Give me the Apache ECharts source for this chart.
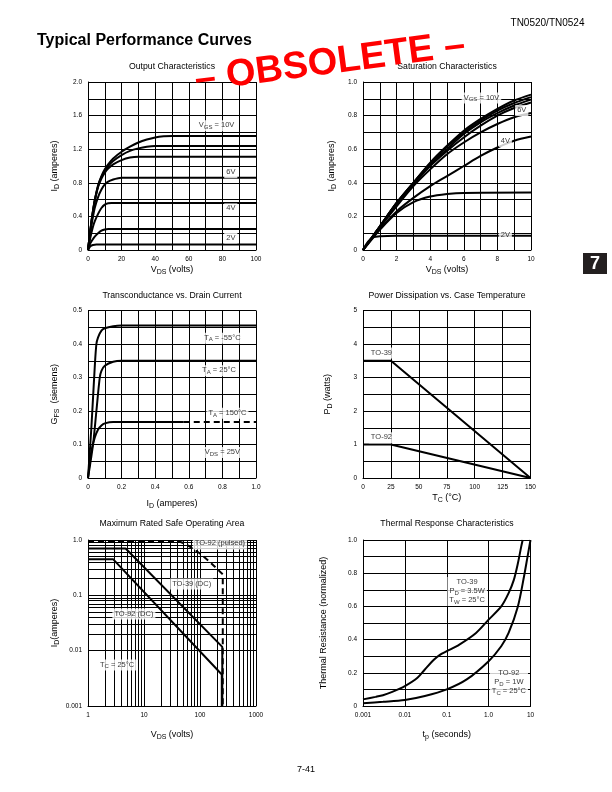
<!DOCTYPE html>
<html><head><meta charset="utf-8">
<script src="https://cdn.jsdelivr.net/npm/echarts@6/dist/echarts.min.js"></script>
<style>html,body{margin:0;padding:0;background:#fff}#c{width:612px;height:792px}</style>
</head><body><div id="c"></div><script>
// ================= DATA =================
// 1. Output Characteristics: [VDS (volts), ID (amperes)]
const outVgs10 = [[0,0],[1,0.17],[2,0.33],[3,0.47],[4,0.59],[6,0.77],[8,0.88],[10,0.96],[12,1.02],[15,1.09],[20,1.17],[25,1.23],[30,1.28],[35,1.315],[40,1.34],[45,1.353],[50,1.358],[100,1.358]];
const outVgs9  = [[0,0],[1,0.17],[2,0.33],[3,0.47],[4,0.59],[6,0.76],[8,0.87],[10,0.94],[12,1.0],[15,1.06],[20,1.13],[25,1.18],[30,1.21],[35,1.23],[40,1.238],[100,1.238]];
const outVgs8  = [[0,0],[1,0.17],[2,0.33],[3,0.46],[4,0.58],[6,0.75],[8,0.85],[10,0.92],[12,0.97],[15,1.02],[20,1.07],[25,1.1],[30,1.11],[100,1.11]];
const outVgs6  = [[0,0],[1,0.15],[2,0.29],[3,0.4],[4,0.5],[6,0.63],[8,0.72],[10,0.78],[12,0.815],[15,0.84],[18,0.855],[20,0.86],[100,0.86]];
const outVgs4  = [[0,0],[1,0.11],[2,0.2],[3,0.28],[4,0.34],[6,0.43],[8,0.5],[10,0.54],[12,0.556],[14,0.56],[100,0.56]];
const outVgs3  = [[0,0],[1,0.06],[2,0.1],[4,0.16],[6,0.2],[8,0.23],[10,0.245],[12,0.25],[100,0.25]];
const outVgs2  = [[0,0],[1,0.035],[2,0.052],[3,0.06],[5,0.065],[100,0.065]];

// 2. Saturation Characteristics: [VDS (volts), ID (amperes)]
const satVgs10 = [[0,0],[0.5,0.07],[1,0.14],[2,0.28],[3,0.4],[4,0.52],[5,0.62],[6,0.71],[7,0.78],[8,0.84],[9,0.89],[10,0.925]];
const satVgs9  = [[0,0],[0.5,0.07],[1,0.14],[2,0.28],[3,0.4],[4,0.515],[5,0.615],[6,0.7],[7,0.77],[8,0.83],[9,0.875],[10,0.91]];
const satVgs8  = [[0,0],[0.5,0.07],[1,0.14],[2,0.28],[3,0.4],[4,0.51],[5,0.6],[6,0.69],[7,0.76],[8,0.815],[9,0.86],[10,0.895]];
const satVgs6  = [[0,0],[0.5,0.07],[1,0.14],[2,0.275],[3,0.39],[4,0.5],[5,0.59],[6,0.67],[7,0.74],[8,0.8],[9,0.845],[10,0.878]];
const satVgs5  = [[0,0],[0.5,0.07],[1,0.135],[2,0.26],[3,0.38],[4,0.48],[5,0.57],[6,0.64],[7,0.7],[8,0.75],[9,0.79],[10,0.815]];
const satVgs4  = [[0,0],[0.5,0.065],[1,0.125],[2,0.23],[3,0.31],[4,0.38],[5,0.44],[6,0.5],[7,0.56],[8,0.61],[9,0.65],[10,0.675]];
const satVgs3  = [[0,0],[0.5,0.06],[1,0.12],[2,0.22],[3,0.285],[4,0.318],[5,0.333],[6,0.34],[10,0.342]];
const satVgs2  = [[0,0],[0.3,0.05],[0.6,0.075],[1,0.082],[2,0.085],[10,0.085]];

// 3. Transconductance vs Drain Current: [ID (amperes), GFS (siemens)]
const gfsM55   = [[0,0],[0.02,0.15],[0.04,0.33],[0.05,0.4],[0.06,0.42],[0.08,0.44],[0.1,0.447],[0.15,0.453],[0.2,0.455],[1.0,0.455]];
const gfs25    = [[0,0],[0.03,0.1],[0.05,0.2],[0.07,0.3],[0.08,0.32],[0.1,0.335],[0.15,0.347],[0.2,0.35],[1.0,0.35]];
const gfs150   = [[0,0],[0.02,0.08],[0.04,0.12],[0.06,0.145],[0.08,0.157],[0.1,0.163],[0.15,0.167],[0.57,0.167]];
const gfs150Ext = [[0.57,0.167],[1.0,0.167]];

// 4. Power Dissipation vs Case Temperature: [TC (°C), PD (watts)]
const pdTO39 = [[0,3.5],[25,3.5],[150,0]];
const pdTO92 = [[0,1],[25,1],[150,0]];

// 5. Maximum Rated Safe Operating Area: [VDS (volts), ID (amperes)]
const soaTO92Pulsed = [[1,0.92],[45,0.92],[55,0.85],[70,0.73],[100,0.57],[150,0.4],[255,0.24],[255,0.001]];
const soaTO39DC = [[1,0.7],[4.7,0.7],[250,0.0117],[250,0.001]];
const soaTO92DC = [[1,0.45],[2.8,0.45],[245,0.0037],[245,0.001]];

// 6. Thermal Response Characteristics: [tp (seconds), normalized thermal resistance]
const thTO39 = [[0.001,0.04],[0.002,0.055],[0.003,0.065],[0.005,0.085],[0.01,0.12],[0.02,0.17],[0.03,0.22],[0.05,0.28],[0.07,0.31],[0.1,0.33],[0.2,0.37],[0.5,0.44],[1,0.52],[2,0.6],[3,0.68],[4,0.76],[5,0.86],[6,0.96],[6.5,1.0]];
const thTO92 = [[0.001,0.017],[0.003,0.025],[0.01,0.036],[0.03,0.06],[0.1,0.1],[0.3,0.16],[1,0.27],[2,0.36],[3,0.44],[5,0.6],[7,0.78],[8.5,0.9],[10,1.0]];

// Tick labels for log axes
const soaXTicks = ['1','10','100','1000'];
const soaYTicks = ['0.001','0.01','0.1','1.0'];
const thXTicks = ['0.001','0.01','0.1','1.0','10'];
// minor log gridlines (SOA)
const soaXMinor = [2,3,4,5,6,7,8,9,20,30,40,50,60,70,80,90,200,300,400,500,600,700,800,900];
const soaYMinor = [0.002,0.003,0.004,0.005,0.006,0.007,0.008,0.009,0.02,0.03,0.04,0.05,0.06,0.07,0.08,0.09,0.2,0.3,0.4,0.5,0.6,0.7,0.8,0.9];

// Annotations (text, data position)
const outNotes = [{t:'{n|V}{s|GS}{n| = 10V}', x:76.5, y:1.48}, {t:'{n|6V}', x:85, y:0.92}, {t:'{n|4V}', x:85, y:0.49}, {t:'{n|2V}', x:85, y:0.143}];
const satNotes = [{t:'{n|V}{s|GS}{n| = 10V}', x:7.05, y:0.905}, {t:'{n|6V}', x:9.45, y:0.83}, {t:'{n|4V}', x:8.47, y:0.646}, {t:'{n|2V}', x:8.47, y:0.085}];
const gfsNotes = [{t:'{n|T}{s|A}{n| = -55°C}', x:0.8, y:0.417}, {t:'{n|T}{s|A}{n| = 25°C}', x:0.78, y:0.32}, {t:'{n|T}{s|A}{n| = 150°C}', x:0.83, y:0.193}, {t:'{n|V}{s|DS}{n| = 25V}', x:0.8, y:0.076}];
const pdNotes = [{t:'{n|TO-39}', x:16.5, y:3.73}, {t:'{n|TO-92}', x:16.5, y:1.2}];
const soaNotes = [{t:'{n|TO-92 (pulsed)}', x:227, y:0.85}, {t:'{n|TO-39 (DC)}', x:71, y:0.16}, {t:'{n|TO-92 (DC)}', x:6.6, y:0.046}, {t:'{n|T}{s|C}{n| = 25°C}', x:3.3, y:0.0055}];
const thNotes = [{t:'{n|TO-39}\n{n|P}{s|D}{n| = 3.5W}\n{n|T}{s|W}{n| = 25°C}', x:0.307, y:0.69}, {t:'{n|TO-92}\n{n|P}{s|D}{n| = 1W}\n{n|T}{s|C}{n| = 25°C}', x:3.05, y:0.141}];

// ================= STYLE / LAYOUT =================
const FONT = '"Liberation Sans", Arial, Helvetica, sans-serif';
const layout = [
  {left: 88, top: 82, width: 168, height: 168},
  {left: 363, top: 82, width: 168, height: 168},
  {left: 88, top: 310.5, width: 168, height: 167.5},
  {left: 363, top: 310.5, width: 167.5, height: 167.5},
  {left: 88, top: 540, width: 168, height: 166},
  {left: 363, top: 540, width: 167.5, height: 166}
];
const richName = {
  n: {fontSize: 9, fontFamily: FONT, color: '#000', lineHeight: 11, verticalAlign: 'top'},
  s: {fontSize: 7, fontFamily: FONT, color: '#000', lineHeight: 8, verticalAlign: 'bottom', padding: [5,0,0,0]}
};
const richNote = {
  n: {fontSize: 7.5, fontFamily: FONT, color: '#000', lineHeight: 9, verticalAlign: 'top'},
  s: {fontSize: 6, fontFamily: FONT, color: '#000', lineHeight: 7, verticalAlign: 'bottom', padding: [4,0,0,0]}
};
const gridLine = {show: true, lineStyle: {color: '#000', width: 1}};
const axisLine = {show: true, lineStyle: {color: '#000', width: 1}};
const tickFont = {color: '#000', fontSize: 6.5, fontFamily: FONT};

function near(v, step) { return Math.abs(v / step - Math.round(v / step)) < 1e-6; }
function linAxis(gi, min, max, step, labelStep, dec, name, gap) {
  return {type: 'value', gridIndex: gi, min, max, interval: step,
    axisLine, axisTick: {show: false}, splitLine: gridLine,
    axisLabel: Object.assign({margin: 6, showMinLabel: true, showMaxLabel: true,
      formatter: v => near(v, labelStep) ? (Math.abs(v) < 1e-9 ? '0' : v.toFixed(dec)) : ''}, tickFont),
    name, nameLocation: 'middle', nameGap: gap, nameTextStyle: {rich: richName}};
}
function logAxis(gi, min, max, labels, name, gap) {
  return {type: 'log', logBase: 10, gridIndex: gi, min, max,
    axisLine, axisTick: {show: false}, splitLine: gridLine,
    axisLabel: Object.assign({margin: 6, showMinLabel: true, showMaxLabel: true,
      formatter: v => labels[Math.round(Math.log10(v) - Math.log10(min))]}, tickFont),
    name, nameLocation: 'middle', nameGap: gap, nameTextStyle: {rich: richName}};
}
function curve(gi, data, extra) {
  return Object.assign({type: 'line', xAxisIndex: gi, yAxisIndex: gi, data, showSymbol: false, symbol: 'none',
    smooth: 0.3, silent: true, animation: false, z: 3,
    lineStyle: {color: '#000', width: 2}}, extra || {});
}
function notes(gi, items) {
  return {type: 'scatter', xAxisIndex: gi, yAxisIndex: gi, symbolSize: 0, silent: true, animation: false, z: 6,
    data: items.map(it => ({value: [it.x, it.y], label: {formatter: it.t}})),
    label: {show: true, position: 'inside', backgroundColor: '#fff', padding: [1, 2, 1, 2], align: 'center', rich: richNote}};
}

const xAxes = [
  linAxis(0, 0, 100, 10, 20, 0, '{n|V}{s|DS}{n| (volts)}', 14),
  linAxis(1, 0, 10, 1, 2, 0, '{n|V}{s|DS}{n| (volts)}', 14),
  linAxis(2, 0, 1, 0.1, 0.2, 1, '{n|I}{s|D}{n| (amperes)}', 21),
  linAxis(3, 0, 150, 25, 25, 0, '{n|T}{s|C}{n| (°C)}', 13),
  logAxis(4, 1, 1000, soaXTicks, '{n|V}{s|DS}{n| (volts)}', 24),
  logAxis(5, 0.001, 10, thXTicks, '{n|t}{s|p}{n| (seconds)}', 24)
];
const yAxes = [
  linAxis(0, 0, 2, 0.2, 0.4, 1, '{n|I}{s|D}{n| (amperes)}', 27),
  linAxis(1, 0, 1, 0.1, 0.2, 1, '{n|I}{s|D}{n| (amperes)}', 25),
  linAxis(2, 0, 0.5, 0.05, 0.1, 1, '{n|G}{s|FS}{n|  (siemens)}', 27),
  linAxis(3, 0, 5, 0.5, 1, 0, '{n|P}{s|D}{n| (watts)}', 29),
  logAxis(4, 0.001, 1, soaYTicks, '{n|I}{s|D}{n|(amperes)}', 27),
  linAxis(5, 0, 1, 0.1, 0.2, 1, '{n|Thermal Resistance (normalized)}', 33)
];

const minorLine = {symbol: 'none', silent: true, animation: false, label: {show: false},
  lineStyle: {color: '#000', width: 1, type: 'solid'}, emphasis: {disabled: true}};

const series = [
  curve(0, outVgs10), curve(0, outVgs9), curve(0, outVgs8), curve(0, outVgs6), curve(0, outVgs4), curve(0, outVgs3), curve(0, outVgs2),
  curve(1, satVgs10), curve(1, satVgs9), curve(1, satVgs8), curve(1, satVgs6), curve(1, satVgs5), curve(1, satVgs4), curve(1, satVgs3), curve(1, satVgs2),
  curve(2, gfsM55), curve(2, gfs25), curve(2, gfs150), curve(2, gfs150Ext, {smooth: false, lineStyle: {color: '#000', width: 2, type: [6, 4]}}),
  curve(3, pdTO39, {smooth: false}), curve(3, pdTO92, {smooth: false}),
  curve(4, soaTO92Pulsed, {smooth: false, lineStyle: {color: '#000', width: 2, type: [6, 4]}}),
  curve(4, soaTO39DC, {smooth: false}), curve(4, soaTO92DC, {smooth: false}),
  {type: 'line', xAxisIndex: 4, yAxisIndex: 4, data: [], silent: true, animation: false, z: 1,
    markLine: Object.assign({data: soaXMinor.map(v => ({xAxis: v})).concat(soaYMinor.map(v => ({yAxis: v})))}, minorLine)},
  curve(5, thTO39), curve(5, thTO92),
  notes(0, outNotes), notes(1, satNotes), notes(2, gfsNotes), notes(3, pdNotes), notes(4, soaNotes), notes(5, thNotes)
];

function txt(x, y, text, font, align) {
  return {type: 'text', x, y, silent: true, z: 50,
    style: {text, font, fill: '#000', textAlign: align || 'center', textVerticalAlign: 'middle', align: align || 'center', verticalAlign: 'middle'}};
}
const titleFont = '8.7px ' + FONT;
const graphic = [
  txt(547.5, 23.5, 'TN0520/TN0524', '10px ' + FONT),
  txt(37, 40.5, 'Typical Performance Curves', 'bold 16px ' + FONT, 'left'),
  txt(172, 66.5, 'Output Characteristics', titleFont),
  txt(447, 66.5, 'Saturation Characteristics', titleFont),
  txt(172, 295.5, 'Transconductance vs. Drain Current', titleFont),
  txt(447, 295.5, 'Power Dissipation vs. Case Temperature', titleFont),
  txt(172, 523.5, 'Maximum Rated Safe Operating Area', titleFont),
  txt(447, 523.5, 'Thermal Response Characteristics', titleFont),
  txt(306, 770, '7-41', '9px ' + FONT),
  {type: 'rect', shape: {x: 583, y: 253, width: 24, height: 21}, style: {fill: '#231f20'}, silent: true, z: 50},
  {type: 'text', x: 595, y: 264, silent: true, z: 51, style: {text: '7', font: 'bold 18px ' + FONT, fill: '#fff', textAlign: 'center', textVerticalAlign: 'middle', align: 'center', verticalAlign: 'middle'}},
  {type: 'text', x: 330, y: 63, rotation: 7.5 * Math.PI / 180, silent: true, z: 100,
    style: {text: '– OBSOLETE –', font: 'bold 38px ' + FONT, fill: '#ff0000', textAlign: 'center', textVerticalAlign: 'middle', align: 'center', verticalAlign: 'middle'}}
];

const chart = echarts.init(document.getElementById('c'), null, {renderer: 'canvas'});
chart.setOption({
  animation: false,
  backgroundColor: '#fff',
  grid: layout.map(g => Object.assign({containLabel: false}, g)),
  xAxis: xAxes,
  yAxis: yAxes,
  series,
  graphic
});
</script></body></html>
